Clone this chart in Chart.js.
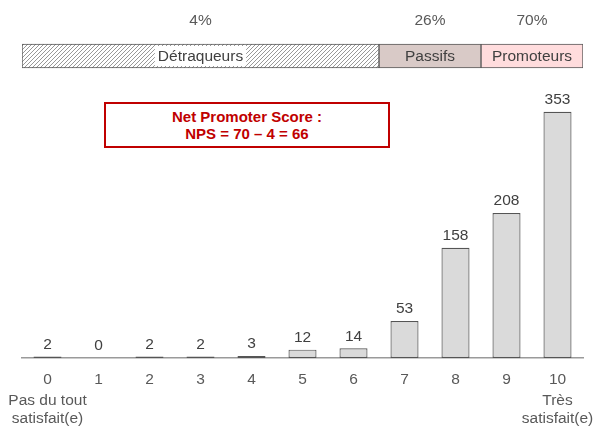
<!DOCTYPE html>
<html>
<head>
<meta charset="utf-8">
<script src="https://cdn.jsdelivr.net/npm/chart.js@4"></script>
<style>
  html, body { margin: 0; padding: 0; background: #fff; }
  #wrap { position: relative; width: 595px; height: 429px; }
  #wrap canvas { position: absolute; left: 0; top: 0; }
  #nps {
    position: absolute; left: 104px; top: 102px; width: 282px; height: 42px;
    border: 2px solid #c00000; background: #fff;
    display: flex; flex-direction: column; justify-content: center; align-items: center;
    font: bold 15px "Liberation Sans", Arial, sans-serif; color: #c00000; line-height: 17px;
  }
</style>
</head>
<body>
<div id="wrap">
  <canvas id="barres" width="595" height="429"></canvas>
  <canvas id="bande" width="595" height="80"></canvas>
  <div id="nps"><div>Net Promoter Score :</div><div>NPS = 70 – 4 = 66</div></div>
</div>
<script>
// ----- données -----
const notes = ['0', '1', '2', '3', '4', '5', '6', '7', '8', '9', '10'];
const effectifs = [2, 0, 2, 2, 3, 12, 14, 53, 158, 208, 353];
const extremites = [['Pas du tout', 'satisfait(e)'], ['Très', 'satisfait(e)']];

// bande du haut : nombre de notes couvertes par chaque groupe
const groupes = ['Détraqueurs', 'Passifs', 'Promoteurs'];
const etendues = [7, 2, 2];
const pourcentages = ['4%', '26%', '70%'];

const police = '"Liberation Sans", Arial, sans-serif';
const taille = 15.5;

// motif hachuré pour les détracteurs
function hachures() {
  const c = document.createElement('canvas');
  c.width = 4; c.height = 4;
  const g = c.getContext('2d');
  g.fillStyle = '#fff';
  g.fillRect(0, 0, 4, 4);
  g.strokeStyle = '#8c8c8c';
  g.lineWidth = 0.9;
  g.beginPath();
  g.moveTo(-1, 5); g.lineTo(5, -1);
  g.moveTo(-1, 1); g.lineTo(1, -1);
  g.moveTo(3, 5); g.lineTo(5, 3);
  g.stroke();
  return g.createPattern(c, 'repeat');
}

const couleurs = [hachures(), '#d9cac7', '#ffdcdd'];

// ----- bande des groupes -----
const texteBande = {
  id: 'texteBande',
  afterDatasetsDraw(chart) {
    const ctx = chart.ctx;
    ctx.save();
    ctx.font = taille + 'px ' + police;
    ctx.textAlign = 'center';
    ctx.textBaseline = 'middle';
    chart.data.datasets.forEach((ds, i) => {
      const el = chart.getDatasetMeta(i).data[0];
      const cx = (el.x + el.base) / 2;
      ctx.fillStyle = '#595959';
      ctx.fillText(pourcentages[i], cx, 21);
      if (i === 0) {
        const w = ctx.measureText(ds.label).width;
        ctx.fillStyle = '#fff';
        ctx.fillRect(cx - w / 2 - 3, el.y - 10, w + 6, 20);
      }
      ctx.fillStyle = '#404040';
      ctx.fillText(ds.label, cx, el.y + 1);
    });
    ctx.restore();
  }
};

new Chart(document.getElementById('bande').getContext('2d'), {
  type: 'bar',
  data: {
    labels: [''],
    datasets: groupes.map((g, i) => ({
      label: g,
      data: [etendues[i]],
      backgroundColor: couleurs[i],
      borderColor: '#595959',
      borderWidth: 1,
      borderSkipped: false,
      barThickness: 24
    }))
  },
  options: {
    indexAxis: 'y',
    responsive: false,
    animation: false,
    devicePixelRatio: 1,
    layout: { padding: { left: 22, right: 12, top: 40, bottom: 8 } },
    scales: {
      x: { stacked: true, min: 0, max: 11, display: false },
      y: { stacked: true, display: false }
    },
    plugins: { legend: { display: false }, tooltip: { enabled: false } }
  },
  plugins: [texteBande]
});

// ----- histogramme -----
const etiquettes = {
  id: 'etiquettes',
  afterDatasetsDraw(chart) {
    const ctx = chart.ctx;
    const meta = chart.getDatasetMeta(0);
    ctx.save();
    ctx.font = taille + 'px ' + police;
    ctx.textAlign = 'center';
    ctx.textBaseline = 'middle';
    ctx.fillStyle = '#404040';
    meta.data.forEach((bar, i) => {
      ctx.fillText(String(effectifs[i]), bar.x, bar.y - 12);
    });
    ctx.fillStyle = '#595959';
    const xs = chart.scales.x;
    [0, notes.length - 1].forEach((idx, k) => {
      extremites[k].forEach((ligne, j) => {
        ctx.fillText(ligne, xs.getPixelForValue(idx), 401 + j * 18);
      });
    });
    ctx.restore();
  }
};

new Chart(document.getElementById('barres').getContext('2d'), {
  type: 'bar',
  data: {
    labels: notes,
    datasets: [{
      data: effectifs,
      backgroundColor: '#dadada',
      borderColor: '#555',
      borderWidth: 1.2,
      borderSkipped: false,
      barPercentage: 0.55,
      categoryPercentage: 1
    }]
  },
  options: {
    responsive: false,
    animation: false,
    devicePixelRatio: 1,
    layout: { padding: { left: 22, right: 12, top: 100, bottom: 0 } },
    scales: {
      x: {
        grid: { display: false, drawTicks: false },
        border: { display: true, color: '#9a9a9a', width: 1.5 },
        ticks: { color: '#595959', font: { family: police, size: taille }, padding: 12 },
        afterFit: s => { s.height = 71; }
      },
      y: { min: 0, max: 370, display: false }
    },
    plugins: { legend: { display: false }, tooltip: { enabled: false } }
  },
  plugins: [etiquettes]
});
</script>
</body>
</html>
